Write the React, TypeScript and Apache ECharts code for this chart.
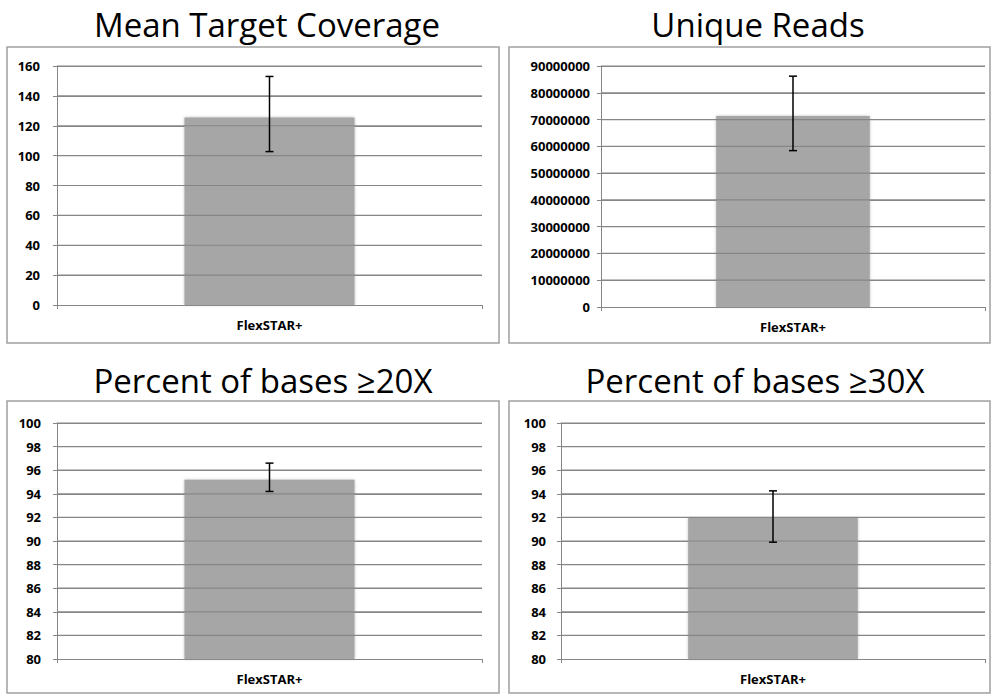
import React, { useEffect, useRef } from "react";
import * as echarts from "echarts";

const categories = ["FlexSTAR+"];
const titles = ["Mean Target Coverage", "Unique Reads", "Percent of bases ≥20X", "Percent of bases ≥30X"];
const coverageMean = [125.6];
const coverageLow = [102.7];
const coverageHigh = [153.0];
const readsMean = [71300000];
const readsLow = [58400000];
const readsHigh = [86200000];
const pct20Mean = [95.2];
const pct20Low = [94.2];
const pct20High = [96.6];
const pct30Mean = [91.95];
const pct30Low = [89.9];
const pct30High = [94.25];
const axisMin = [0, 0, 80, 80];
const axisMax = [160, 90000000, 100, 100];
const axisStep = [20, 10000000, 2, 2];

const panels = [
  { mean: coverageMean, low: coverageLow, high: coverageHigh },
  { mean: readsMean, low: readsLow, high: readsHigh },
  { mean: pct20Mean, low: pct20Low, high: pct20High },
  { mean: pct30Mean, low: pct30Low, high: pct30High },
];

const grids = [
  { left: 57, right: 510, top: 66, bottom: 393 },
  { left: 601, right: 7, top: 66, bottom: 391 },
  { left: 57, right: 510, top: 423, bottom: 39 },
  { left: 561, right: 7, top: 423, bottom: 39 },
];
const labelMargins = [17, 11, 16, 15];
const boxes = [
  { x: 7, y: 47, w: 492, h: 296 },
  { x: 509, y: 47, w: 481, h: 296 },
  { x: 7, y: 401, w: 492, h: 292 },
  { x: 509, y: 401, w: 481, h: 292 },
];
const titlePos = [
  { x: 267, y: 24 },
  { x: 758, y: 24 },
  { x: 263, y: 380 },
  { x: 755, y: 380 },
];

const FONT = "'Open Sans', 'Noto Sans', sans-serif";
const GRID_COLOR = "#868686";

export default function App() {
  const ref = useRef<HTMLDivElement>(null);
  useEffect(() => {
    if (!ref.current) return;
    const chart = echarts.init(ref.current, null, { renderer: "svg" });
    const xAxis: any[] = [];
    const yAxis: any[] = [];
    const series: any[] = [];
    const graphic: any[] = [];
    panels.forEach((p, i) => {
      const ticks: number[] = [];
      for (let v = axisMin[i] + axisStep[i]; v <= axisMax[i] + 1e-9; v += axisStep[i]) ticks.push(v);
      xAxis.push({
        type: "category",
        gridIndex: i,
        data: categories,
        axisLine: { lineStyle: { color: GRID_COLOR, width: 1 } },
        axisTick: { show: true, length: 4, lineStyle: { color: GRID_COLOR } },
        axisLabel: { color: "#000", fontWeight: "bold", fontSize: 13, fontFamily: FONT, margin: 13 },
      });
      yAxis.push({
        type: "value",
        gridIndex: i,
        min: axisMin[i],
        max: axisMax[i],
        interval: axisStep[i],
        axisLine: { show: true, lineStyle: { color: GRID_COLOR, width: 1 } },
        axisTick: { show: true, length: 4, lineStyle: { color: GRID_COLOR } },
        splitLine: { show: true, lineStyle: { color: GRID_COLOR, width: 1.2 } },
        axisLabel: {
          color: "#000",
          fontWeight: "bold",
          fontSize: 13,
          fontFamily: FONT,
          margin: labelMargins[i],
          formatter: (v: number) => String(v),
        },
      });
      series.push({
        type: "bar",
        xAxisIndex: i,
        yAxisIndex: i,
        data: p.mean,
        barWidth: "40%",
        z: 2,
        itemStyle: {
          color: "#a6a6a6",
          shadowBlur: 3,
          shadowColor: "rgba(150,150,150,0.6)",
        },
      });
      // gridlines redrawn over the bar, as in the reference
      series.push({
        type: "custom",
        xAxisIndex: i,
        yAxisIndex: i,
        z: 5,
        silent: true,
        data: ticks.map((v) => [0, v]),
        renderItem: (params: any, api: any) => {
          const cs = params.coordSys;
          const pt = api.coord([0, api.value(1)]);
          return {
            type: "line",
            shape: { x1: cs.x, y1: pt[1], x2: cs.x + cs.width, y2: pt[1] },
            style: { stroke: GRID_COLOR, lineWidth: 1.2 },
          };
        },
      });
      series.push({
        type: "custom",
        xAxisIndex: i,
        yAxisIndex: i,
        z: 10,
        data: p.mean.map((_, k) => [k, p.low[k], p.high[k]]),
        renderItem: (params: any, api: any) => {
          const lo = api.coord([api.value(0), api.value(1)]);
          const hi = api.coord([api.value(0), api.value(2)]);
          const half = 4;
          const st = { stroke: "#000", lineWidth: 1.5 };
          return {
            type: "group",
            children: [
              { type: "line", shape: { x1: hi[0], y1: hi[1], x2: lo[0], y2: lo[1] }, style: st },
              { type: "line", shape: { x1: hi[0] - half, y1: hi[1], x2: hi[0] + half, y2: hi[1] }, style: st },
              { type: "line", shape: { x1: lo[0] - half, y1: lo[1], x2: lo[0] + half, y2: lo[1] }, style: st },
            ],
          };
        },
      });
      const b = boxes[i];
      graphic.push({
        type: "rect",
        shape: { x: b.x, y: b.y, width: b.w, height: b.h },
        style: { fill: "none", stroke: "#a0a0a0", lineWidth: 1.5 },
        silent: true,
        z: -10,
      });
      graphic.push({
        type: "text",
        x: titlePos[i].x,
        y: titlePos[i].y,
        style: {
          text: titles[i],
          font: `33px ${FONT}`,
          fill: "#000",
          textAlign: "center",
          textVerticalAlign: "middle",
          align: "center",
          verticalAlign: "middle",
        },
      });
    });
    chart.setOption({
      animation: false,
      backgroundColor: "#fff",
      grid: grids,
      xAxis,
      yAxis,
      series,
      graphic,
    });
    return () => chart.dispose();
  }, []);
  return (
    <div
      ref={ref}
      style={{ position: "absolute", left: 0, top: 0, width: 992, height: 698 }}
    />
  );
}
